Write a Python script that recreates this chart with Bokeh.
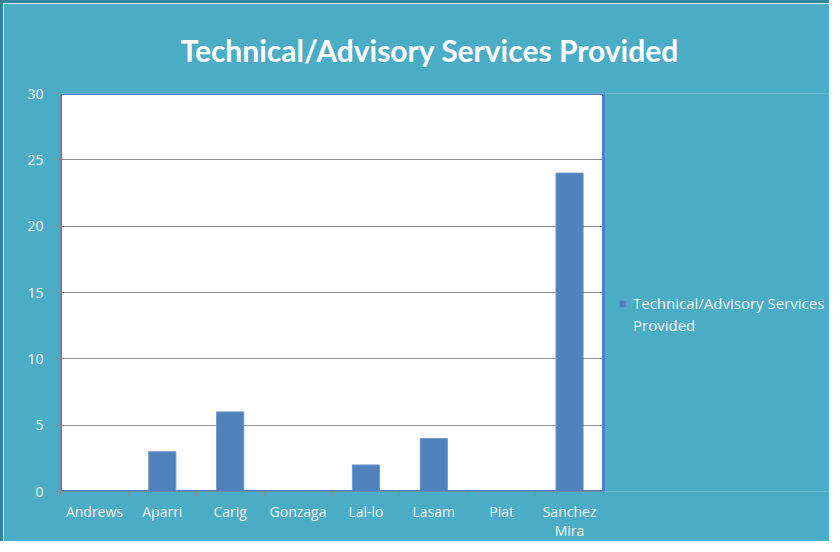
from bokeh.plotting import figure
from bokeh.models import (ColumnDataSource, FixedTicker, Legend, LegendItem, Range1d,
                          BoxAnnotation)
from bokeh.embed import file_html
from bokeh.resources import INLINE

categories = ["Andrews", "Aparri", "Carig", "Gonzaga", "Lal-lo", "Lasam", "Piat", "Sanchez\nMira"]
values = [0, 3, 6, 0, 2, 4, 0, 24]
series_lines = ["Technical/Advisory Services", "Provided"]
title_text = "Technical/Advisory Services Provided"
y_ticks = [0, 5, 10, 15, 20, 25, 30]
grid_ticks = [5, 10, 15, 20, 25]
y_max = 30

TEAL = "#4BACC6"
BAR = "#4F81BD"
TXT = "#F2F2F2"
FONT = "Open Sans"
TFONT = "Lato"

W, H = 829, 541
LEFT, TOP, BOTTOM = 57, 86, 53
PLOT_W = 543          # pixel width of the white plot area
n = len(categories)
frame_w = W - LEFT
x_end = n * frame_w / PLOT_W   # frame extends right to host the legend

centers = [i + 0.5 for i in range(n)]
src = ColumnDataSource(dict(x=centers, top=values))

p = figure(width=W, height=H, output_backend="svg", toolbar_location=None,
           x_range=Range1d(0, x_end), y_range=Range1d(0, y_max),
           min_border_left=LEFT, min_border_right=0, min_border_top=TOP, min_border_bottom=BOTTOM)
p.styles = {"border-top": "3px solid #31849B", "border-left": "3px solid #31849B"}
p.background_fill_color = TEAL
p.border_fill_color = TEAL
p.outline_line_color = None

# white plot area, drawn beneath the grid
p.add_layout(BoxAnnotation(left=0, right=n, bottom=0, top=y_max, fill_color="white",
                           fill_alpha=1, line_alpha=0, level="image"))

r = p.vbar(x="x", top="top", width=0.4, source=src, fill_color=BAR,
           line_color="#6F96C8", line_width=1)
blank = p.vbar(x=[], top=[], width=0.4, fill_alpha=0, line_alpha=0)

# teal cover for the part of the frame right of the plot area (hides grid lines there)
p.add_layout(BoxAnnotation(left=n, fill_color=TEAL, fill_alpha=1, line_alpha=0))
# plot-area border
p.add_layout(BoxAnnotation(left=0, right=n, bottom=0, top=y_max, fill_alpha=0,
                           line_color=BAR, line_width=3, line_alpha=1))

p.title.text = title_text
p.title.align = "left"
p.title.offset = 120
p.title.text_font = TFONT
p.title.text_font_size = "30px"
p.title.text_font_style = "bold"
p.title.text_color = "white"
p.title.standoff = 52

# x axis: labels at category centres, tick marks at boundaries
xt = FixedTicker(ticks=centers, minor_ticks=list(range(n + 1)))
p.xaxis.ticker = xt
p.xaxis.bounds = (0, n)
p.xaxis.major_label_overrides = {c: lab for c, lab in zip(centers, categories)}
p.xaxis.major_tick_line_color = None
p.xaxis.major_tick_out = 0
p.xaxis.major_tick_in = 0
p.xaxis.minor_tick_line_color = "#8C8C8C"
p.xaxis.minor_tick_out = 5
p.xaxis.minor_tick_in = 0
p.xaxis.axis_line_color = "#8C8C8C"
p.xaxis.axis_line_width = 1
p.xaxis.major_label_text_color = TXT
p.xaxis.major_label_text_font = FONT
p.xaxis.major_label_text_font_size = "14px"
p.xaxis.major_label_text_line_height = 1.0
p.xaxis.major_label_standoff = 5

p.yaxis.ticker = FixedTicker(ticks=y_ticks)
p.yaxis.minor_tick_line_color = None
p.yaxis.major_tick_line_color = "#8C8C8C"
p.yaxis.major_tick_out = 6
p.yaxis.major_tick_in = 0
p.yaxis.axis_line_color = "#8C8C8C"
p.yaxis.major_label_text_color = TXT
p.yaxis.major_label_text_font = FONT
p.yaxis.major_label_text_font_size = "14px"
p.yaxis.major_label_standoff = 11

p.xgrid.grid_line_color = None
p.ygrid.ticker = FixedTicker(ticks=grid_ticks)
p.ygrid.grid_line_color = "#8C8C8C"
p.ygrid.grid_line_width = 1

legend = Legend(items=[LegendItem(label=series_lines[0], renderers=[r]),
                       LegendItem(label=series_lines[1], renderers=[blank])],
                location=(PLOT_W + 15, 156), padding=0, margin=0, spacing=2,
                border_line_color=None, background_fill_alpha=0,
                glyph_width=9, glyph_height=9, label_standoff=6, label_height=20,
                label_text_color=TXT, label_text_font=FONT, label_text_font_size="15px")
p.add_layout(legend, "center")

open("out.html", "w").write(file_html(p, INLINE))
